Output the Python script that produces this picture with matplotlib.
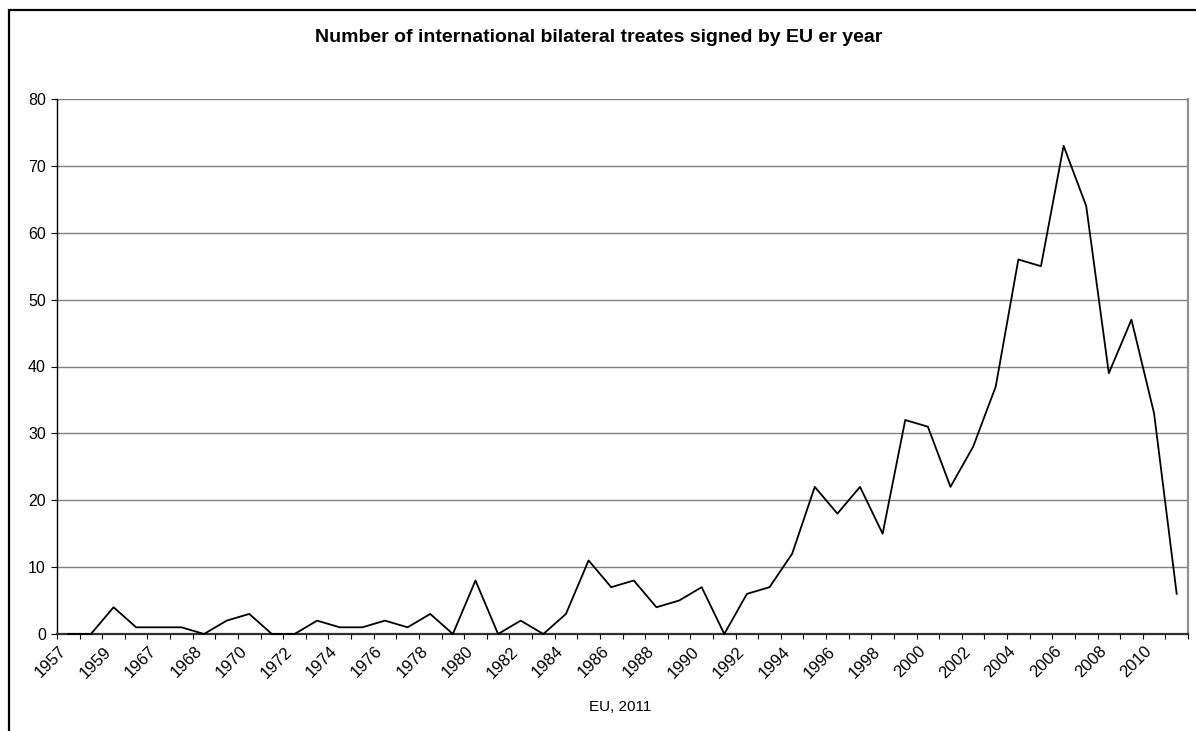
"""Bilateral treaties signed by the EU per year, Excel-style line chart."""

import matplotlib
matplotlib.use("Agg")
import matplotlib.pyplot as plt
import matplotlib.transforms as mtransforms
from matplotlib.patches import Rectangle

plt.rcParams['font.family'] = ['Liberation Sans', 'DejaVu Sans']

years = ["1957", "1958", "1959", "1966", "1967", "1967",
         "1968", "1969", "1970", "1971", "1972", "1973", "1974", "1975",
         "1976", "1977", "1978", "1979", "1980", "1981", "1982", "1983",
         "1984", "1985", "1986", "1987", "1988", "1989", "1990", "1991",
         "1992", "1993", "1994", "1995", "1996", "1997", "1998", "1999",
         "2000", "2001", "2002", "2003", "2004", "2005", "2006", "2007",
         "2008", "2009", "2010", "2011"]
treaties = [0, 0, 4, 1, 1, 1, 0, 2, 3, 0, 0, 2, 1, 1, 2, 1, 3, 0,
            8, 0, 2, 0, 3, 11, 7, 8, 4, 5, 7, 0, 6, 7, 12, 22, 18, 22,
            15, 32, 31, 22, 28, 37, 56, 55, 73, 64, 39, 47, 33, 6]
y_ticks = list(range(0, 81, 10))

W, H = 1196, 731
fig = plt.figure(figsize=(W / 100, H / 100), dpi=100)
ax = fig.add_axes([57 / W, 1 - 634 / H, (1188 - 57) / W, (634 - 99) / H])

x = list(range(len(treaties)))
ax.plot(x, treaties, color="black", linewidth=1.3, zorder=3, clip_on=False)

ax.set_xlim(-0.5, len(treaties) - 0.5)
ax.set_ylim(0, 80)
ax.set_yticks(y_ticks)
ax.yaxis.grid(True, color="#808080", linewidth=1.0)
ax.set_axisbelow(True)

# labels on every other category, tick marks on category boundaries
ax.set_xticks(x[::2])
ax.set_xticklabels(years[::2], rotation=45, ha="right", va="top",
                   rotation_mode="anchor", fontsize=12)
ax.set_xticks([i - 0.5 for i in range(len(treaties) + 1)], minor=True)
ax.tick_params(axis="x", which="major", length=0, pad=7)
ax.tick_params(axis="x", which="minor", length=3.5, width=0.8, color="black",
               direction="out")
ax.tick_params(axis="y", length=4, width=0.8, color="black", labelsize=11.5,
               pad=4)
shift = mtransforms.ScaledTranslation(-10 / 100, 0, fig.dpi_scale_trans)
for lab in ax.get_xticklabels():
    lab.set_transform(lab.get_transform() + shift)

ax.spines["top"].set_visible(False)
ax.spines["right"].set_color("#909090")
ax.spines["right"].set_linewidth(1.6)
ax.spines["left"].set_color("black")
ax.spines["left"].set_linewidth(1.0)
ax.spines["bottom"].set_color("#303030")
ax.spines["bottom"].set_linewidth(1.6)

fig.text(599 / W, 1 - 38 / H,
         "Number of international bilateral treates signed by EU er year",
         ha="center", va="center", fontsize=14, fontweight="bold")
fig.text(620 / W, 1 - 707 / H, "EU, 2011",
         ha="center", va="center", fontsize=11)

# outer chart border, cut off by the right and bottom edges
fig.patches.append(Rectangle((9 / W, -0.1), 1.2, 1 - 9.5 / H + 0.1,
                             transform=fig.transFigure, fill=False,
                             edgecolor="black", linewidth=1.6))

fig.savefig("out.png", dpi=100)
